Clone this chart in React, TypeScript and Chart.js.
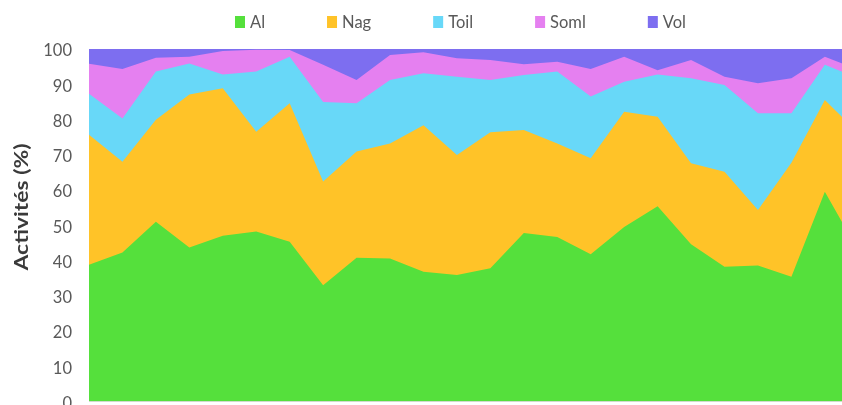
import React, { useEffect, useRef } from "react";
import { Chart, registerables } from "chart.js";

Chart.register(...registerables);

// ---- data ----
const categories = [
  "1", "2", "3", "4", "5", "6", "7", "8", "9", "10", "11", "12",
  "13", "14", "15", "16", "17", "18", "19", "20", "21", "22", "23", "24",
];
const al = [38.8, 42.3, 51.0, 43.7, 47.0, 48.2, 45.3, 33.0, 40.8, 40.6, 36.8, 35.9, 37.8, 47.8, 46.7, 41.8, 49.5, 55.4, 44.6, 38.2, 38.6, 35.4, 59.5, 42.8];
const nag = [36.9, 25.7, 28.9, 43.4, 41.9, 28.3, 39.3, 29.4, 30.1, 32.6, 41.6, 34.0, 38.6, 29.2, 26.5, 27.2, 32.7, 25.4, 23.0, 27.0, 15.7, 32.3, 26.0, 33.4];
const toil = [11.6, 12.3, 13.7, 8.8, 3.9, 17.1, 13.2, 22.6, 13.7, 18.0, 14.7, 22.2, 14.8, 15.6, 20.4, 17.5, 8.5, 12.0, 24.1, 24.6, 27.5, 14.1, 10.0, 15.5];
const soml = [8.5, 14.0, 3.9, 1.9, 6.6, 6.2, 1.9, 10.5, 6.6, 7.1, 6.0, 5.3, 5.7, 3.1, 2.8, 7.8, 7.1, 1.2, 5.2, 2.3, 8.5, 9.9, 2.3, 2.4];
const vol = [4.2, 5.7, 2.5, 2.2, 0.6, 0.2, 0.3, 4.5, 8.8, 1.7, 0.9, 2.6, 3.1, 4.3, 3.6, 5.7, 2.2, 6.0, 3.1, 7.9, 9.7, 8.3, 2.2, 5.9];

const seriesNames = ["Al", "Nag", "Toil", "Soml", "Vol"];
const seriesData = [al, nag, toil, soml, vol];
const seriesColors = ["#55E03C", "#FFC328", "#68D8F8", "#E580F0", "#7D6EF0"];

const yMin = 0;
const yMax = 100;
const yStep = 10;
const yTitle = "Activités (%)";

const FONT = "Lato, 'Open Sans', sans-serif";

// draws the rotated axis title and the legend row
const decorPlugin = {
  id: "decor",
  afterDraw(chart: any) {
    const ctx = chart.ctx as CanvasRenderingContext2D;
    const area = chart.chartArea;

    // y axis title
    ctx.save();
    ctx.font = `bold 18px ${FONT}`;
    const tw = ctx.measureText(yTitle).width;
    const target = 127;
    ctx.translate(area.left - 67, area.top + 158);
    ctx.rotate(-Math.PI / 2);
    ctx.scale(target / tw, 1);
    ctx.fillStyle = "#3A3A3A";
    ctx.textAlign = "center";
    ctx.textBaseline = "middle";
    ctx.fillText(yTitle, 0, 0);
    ctx.restore();

    // legend
    ctx.save();
    ctx.font = `16.5px ${FONT}`;
    const ds = chart.data.datasets;
    const box = 10;
    const gap = 5;
    const spacing = 62;
    const widths = ds.map((d: any) => ctx.measureText(d.label).width);
    const total =
      widths.reduce((s: number, w: number) => s + box + gap + w, 0) +
      spacing * (ds.length - 1);
    let x = 460.5 - total / 2;
    const y = 22;
    ctx.textAlign = "left";
    ctx.textBaseline = "middle";
    ds.forEach((d: any, i: number) => {
      ctx.fillStyle = d.backgroundColor;
      ctx.fillRect(x, y - 6, box, 12);
      ctx.fillStyle = "#595959";
      ctx.fillText(d.label, x + box + gap, y + 1);
      x += box + gap + widths[i] + spacing;
    });
    ctx.restore();
  },
};

export default function App() {
  const ref = useRef<HTMLCanvasElement>(null);

  useEffect(() => {
    const canvas = ref.current;
    if (!canvas) return;
    const chart = new Chart(canvas, {
      type: "line",
      data: {
        labels: categories,
        datasets: seriesNames.map((name, k) => ({
          label: name,
          data: seriesData[k],
          backgroundColor: seriesColors[k],
          borderColor: seriesColors[k],
          borderWidth: 0,
          pointRadius: 0,
          pointHoverRadius: 0,
          fill: "origin",
          tension: 0,
        })),
      },
      options: {
        responsive: false,
        animation: false,
        events: [],
        layout: { padding: { top: 49, right: 21.7, bottom: 28.5, left: 0 } },
        plugins: {
          legend: { display: false },
          title: { display: false },
          tooltip: { enabled: false },
        },
        scales: {
          x: { display: false, stacked: true, offset: false },
          y: {
            stacked: true,
            min: yMin,
            max: yMax,
            ticks: {
              stepSize: yStep,
              color: "#595959",
              font: { family: FONT, size: 16.5 },
              padding: 17,
              labelOffset: 2,
            },
            grid: { display: false, drawTicks: false },
            border: { display: false },
            afterFit: (s: any) => {
              s.width = 89;
            },
          },
        },
      },
      plugins: [decorPlugin],
    });
    return () => chart.destroy();
  }, []);

  return (
    <div
      style={{
        position: "fixed",
        left: 0,
        top: 0,
        width: 842,
        height: 405,
        overflow: "hidden",
        background: "#ffffff",
      }}
    >
      <canvas
        ref={ref}
        width={880}
        height={430}
        style={{ position: "absolute", left: 0, top: 0, width: 880, height: 430, display: "block" }}
      />
    </div>
  );
}
